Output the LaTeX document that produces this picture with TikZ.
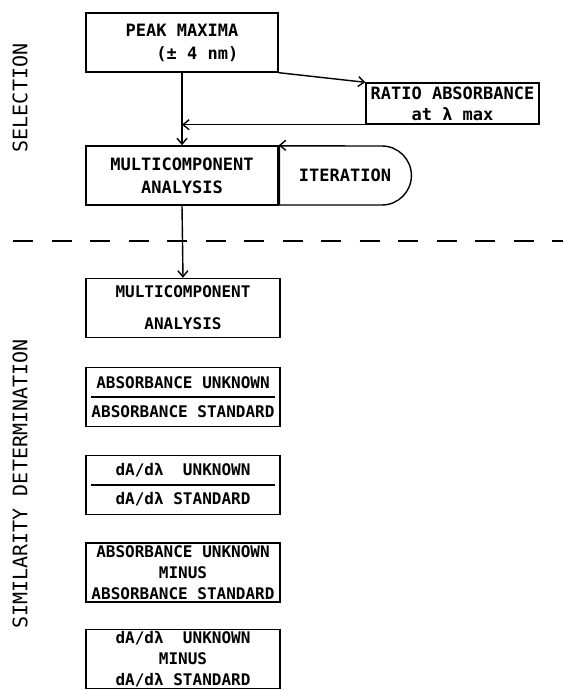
\documentclass[tikz,border=0pt]{standalone}
\usepackage{fontspec}
\newfontfamily\plotfont{DejaVu Sans Mono}
\usetikzlibrary{arrows.meta,shapes.misc}

\begin{document}
\begin{tikzpicture}[x=1pt, y=-1pt, line width=1.4pt,
  box/.style={draw, minimum width=192pt, minimum height=59pt, inner sep=1pt,
    align=center, font=\plotfont\bfseries\fontsize{17}{23}\selectfont},
  lowbox/.style={box, minimum width=194pt,
    font=\plotfont\bfseries\fontsize{16}{21}\selectfont},
  flow/.style={-{Straight Barb[length=6pt,width=10pt]}},
  side/.style={rotate=90, font=\plotfont\fontsize{20}{24}\selectfont}]
\useasboundingbox (0,0) rectangle (563,690);
% upper half: selection
\node[side] (sel) at (20,98) {SELECTION};
\node[box, align=right] (peak) at (182,42.5) {PEAK MAXIMA\\(± 4 nm)};
\node[box, minimum width=173pt, minimum height=41pt,
  font=\plotfont\bfseries\fontsize{17}{21}\selectfont] (ratio) at (452.5,103.5)
  {RATIO ABSORBANCE\\at λ max};
\node[box] (mca) at (182,175.5) {MULTICOMPONENT\\ANALYSIS};
\node[box, rounded rectangle, rounded rectangle west arc=none,
  minimum width=134pt, anchor=west] (iter) at (mca.east) {ITERATION};
\coordinate (join) at (peak.south |- ratio.south west);
\draw[flow] (peak.south) -- (mca.north);
\draw[flow] (peak.south east) -- (ratio.north west);
\draw[flow] (ratio.south west) -- (join);
\draw[flow] (iter.north) -- (mca.north east);
% border between the two stages
\draw[dash pattern=on 20pt off 18.5pt] (13,241) -- (563,241);
% lower half: similarity determination
\node[side] (sim) at (20,484) {SIMILARITY DETERMINATION};
\node[lowbox, font=\plotfont\bfseries\fontsize{16}{32}\selectfont] (multi)
  at (183,308) {MULTICOMPONENT\\ANALYSIS};
\draw[flow] (mca.south) -- (multi.north);
\node[lowbox, font=\plotfont\bfseries\fontsize{16}{29}\selectfont] (absratio)
  at (183,397) {ABSORBANCE UNKNOWN\\ABSORBANCE STANDARD};
\draw ([xshift=6pt]absratio.west) -- ([xshift=-6pt]absratio.east);
\node[lowbox, font=\plotfont\bfseries\fontsize{16}{29}\selectfont] (derratio)
  at (183,485) {dA/dλ\ \ UNKNOWN\\dA/dλ STANDARD};
\draw ([xshift=6pt]derratio.west) -- ([xshift=-6pt]derratio.east);
\node[lowbox] (absdiff) at (183,572.5)
  {ABSORBANCE UNKNOWN\\MINUS\\ABSORBANCE STANDARD};
\node[lowbox] (derdiff) at (183,659)
  {dA/dλ\ \ UNKNOWN\\MINUS\\dA/dλ STANDARD};
\end{tikzpicture}
\end{document}
